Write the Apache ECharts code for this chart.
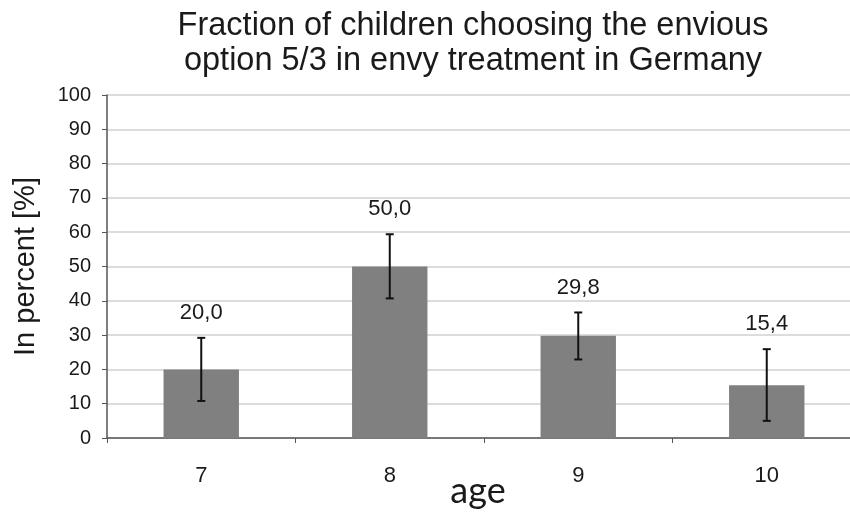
<!DOCTYPE html>
<html>
<head>
<meta charset="utf-8">
<script src="https://cdn.jsdelivr.net/npm/echarts@6/dist/echarts.min.js"></script>
<style>
html,body{margin:0;padding:0;background:#fff;}
#chart{width:850px;height:513px;}
</style>
</head>
<body>
<div id="chart"></div>
<script>
var categories = ['7', '8', '9', '10'];
var values = [20.0, 50.0, 29.8, 15.4];
var errLow = [10.8, 40.7, 22.9, 5.0];
var errHigh = [29.2, 59.4, 36.6, 25.9];
var yTicks = [0, 10, 20, 30, 40, 50, 60, 70, 80, 90, 100];

var chart = echarts.init(document.getElementById('chart'));
var errData = categories.map(function (c, i) { return [i, errLow[i], errHigh[i], values[i]]; });
var font = 'Liberation Sans, Arial, sans-serif';

chart.setOption({
  animation: false,
  title: {
    text: 'Fraction of children choosing the envious\noption 5/3 in envy treatment in Germany',
    left: 468, top: 4, textAlign: 'center',
    textStyle: { fontFamily: font, fontSize: 32.5, fontWeight: 'normal', color: '#1a1a1a', lineHeight: 35 }
  },
  grid: { left: 107, right: -11, top: 95, bottom: 75, outerBoundsMode: 'none', containLabel: false },
  xAxis: {
    type: 'category', data: categories,
    name: 'age', nameLocation: 'middle', nameGap: 35, nameMoveOverlap: false,
    nameTextStyle: { fontFamily: 'Lato, Carlito, sans-serif', fontSize: 36, color: '#1a1a1a', padding: [0, 12, 0, 0] },
    axisLine: { lineStyle: { color: '#555', width: 1.5 } },
    axisTick: { show: true, alignWithLabel: false, length: 5, lineStyle: { color: '#555' } },
    axisLabel: { fontFamily: font, fontSize: 22, color: '#1a1a1a', margin: 27 }
  },
  yAxis: {
    type: 'value', min: 0, max: 100, interval: 10,
    name: 'In percent [%]', nameLocation: 'middle', nameGap: 67, nameMoveOverlap: false,
    nameTextStyle: { fontFamily: font, fontSize: 29, color: '#1a1a1a' },
    axisLine: { show: true, lineStyle: { color: '#555', width: 1.5 } },
    axisTick: { show: true, length: 5, lineStyle: { color: '#555' } },
    axisLabel: { fontFamily: font, fontSize: 20, color: '#1a1a1a', margin: 16,
      formatter: function (v) { return yTicks.indexOf(v) >= 0 ? String(v) : ''; } },
    splitLine: { lineStyle: { color: '#d0d0d0', width: 1.5 } }
  },
  series: [
    {
      type: 'bar', data: values, barWidth: '40%',
      itemStyle: { color: '#808080' }
    },
    {
      type: 'custom', data: errData, z: 10,
      renderItem: function (params, api) {
        var x = api.value(0);
        var lo = api.coord([x, api.value(1)]);
        var hi = api.coord([x, api.value(2)]);
        var cap = 4;
        var txt = api.value(3).toFixed(1).replace('.', ',');
        var st = { stroke: '#111', lineWidth: 2 };
        return {
          type: 'group',
          children: [
            { type: 'line', shape: { x1: lo[0], y1: lo[1], x2: hi[0], y2: hi[1] }, style: st },
            { type: 'line', shape: { x1: hi[0] - cap, y1: hi[1], x2: hi[0] + cap, y2: hi[1] }, style: st },
            { type: 'line', shape: { x1: lo[0] - cap, y1: lo[1], x2: lo[0] + cap, y2: lo[1] }, style: st },
            { type: 'text', style: { text: txt, x: hi[0], y: hi[1] - 25, align: 'center', verticalAlign: 'middle',
              font: '22px Liberation Sans, Arial, sans-serif', fill: '#1a1a1a' } }
          ]
        };
      }
    }
  ]
});
</script>
</body>
</html>
